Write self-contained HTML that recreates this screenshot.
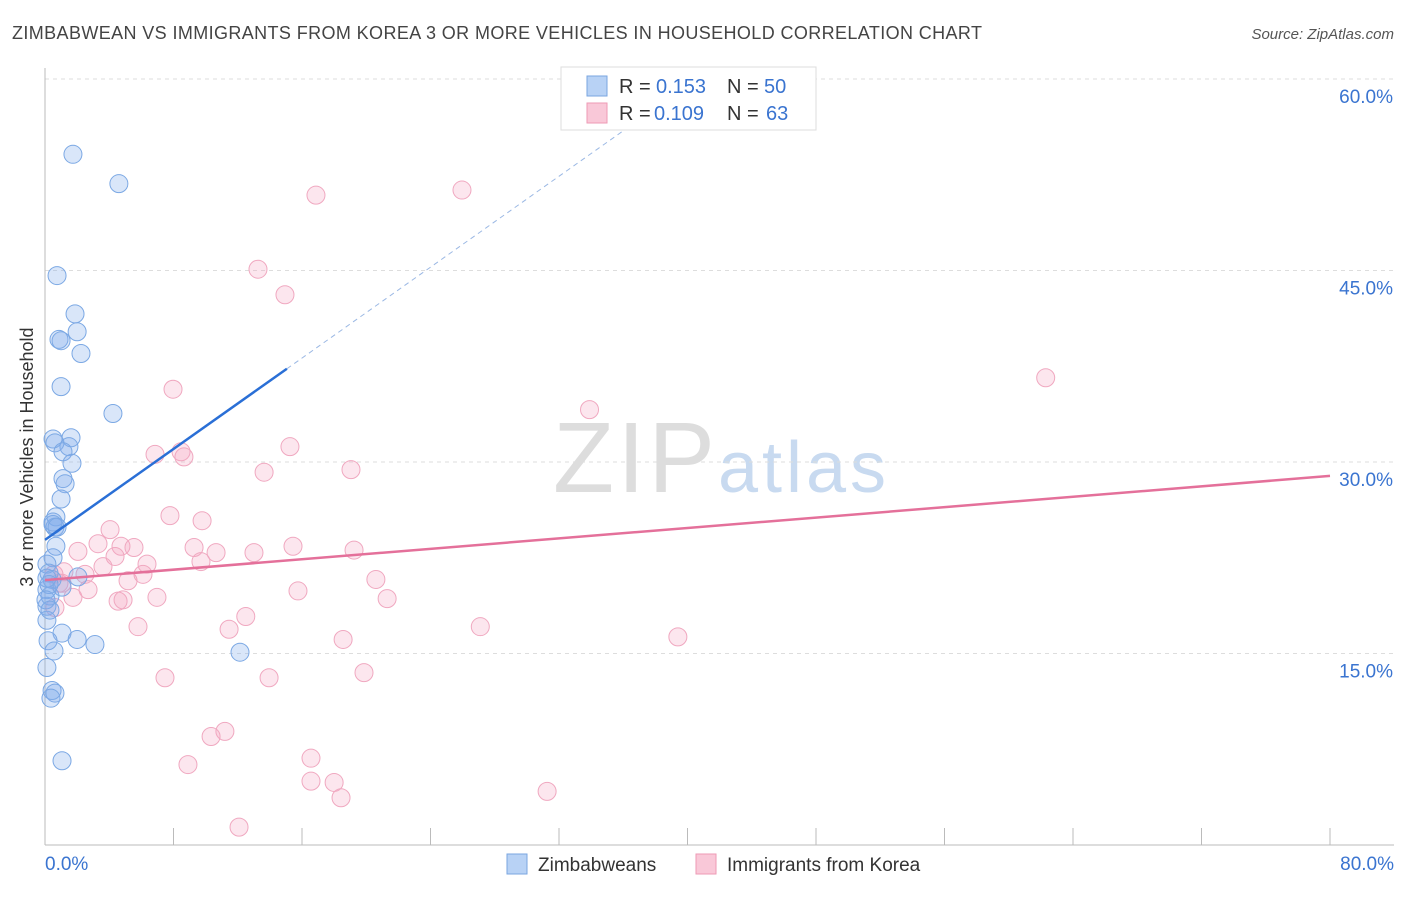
<!DOCTYPE html>
<html><head><meta charset="utf-8"><style>
body{margin:0;background:#fff;font-family:"Liberation Sans",sans-serif}
svg text{font-family:"Liberation Sans",sans-serif}
</style></head><body>
<svg id="chart" width="1406" height="892">
<text x="12" y="39" font-size="18" fill="#444" textLength="970">ZIMBABWEAN VS IMMIGRANTS FROM KOREA 3 OR MORE VEHICLES IN HOUSEHOLD CORRELATION CHART</text>
<text x="1394" y="39" font-size="15" fill="#555" font-style="italic" text-anchor="end">Source: ZipAtlas.com</text>
<text x="0" y="0" transform="translate(33,457) rotate(-90)" font-size="18" fill="#333" text-anchor="middle">3 or more Vehicles in Household</text>
<g><text x="553" y="492" font-size="100" fill="#ddd" font-family="Liberation Serif" textLength="162">ZIP</text><text x="718" y="492" font-size="72" fill="#c8daf0" textLength="168">atlas</text></g>
<g id="grid"></g><g id="axes"></g><g id="marks"></g><g id="trends"></g>
<g>
<rect x="561" y="67" width="255" height="63" fill="#fff" stroke="#ddd"/>
<rect x="587" y="76" width="20" height="20" fill="#b8d2f5" stroke="#7aa6e0"/>
<rect x="587" y="103" width="20" height="20" fill="#f9c8d8" stroke="#ee9ab5"/>
<text x="619" y="93" font-size="20" fill="#333">R = </text><text x="656" y="93" font-size="20" fill="#3a74d0">0.153</text>
<text x="727" y="93" font-size="20" fill="#333">N = </text><text x="764" y="93" font-size="20" fill="#3a74d0">50</text>
<text x="619" y="120" font-size="20" fill="#333">R = </text><text x="654" y="120" font-size="20" fill="#3a74d0">0.109</text>
<text x="727" y="120" font-size="20" fill="#333">N = </text><text x="766" y="120" font-size="20" fill="#3a74d0">63</text>
</g>
<g>
<rect x="507" y="854" width="20" height="20" fill="#b8d2f5" stroke="#7aa6e0"/>
<text x="538" y="871" font-size="19" fill="#333">Zimbabweans</text>
<rect x="696" y="854" width="20" height="20" fill="#f9c8d8" stroke="#ee9ab5"/>
<text x="727" y="871" font-size="19" fill="#333">Immigrants from Korea</text>
</g>
</svg>
<script>
const yTicks=[15,30,45,60];
const xLabels=["0.0%","80.0%"];
const blueX=[1.74,4.6,0.75,1.87,2.0,0.87,1.0,2.24,1.0,4.23,0.5,1.62,0.62,1.49,1.12,1.68,1.12,1.25,1.0,0.68,0.5,0.62,0.68,0.5,0.12,0.25,0.44,0.12,0.31,0.12,2.05,1.06,0.12,1.06,2.0,3.11,0.19,0.56,0.12,0.44,0.62,0.37,1.06,12.14,0.12,0.25,0.06,0.31,0.5,0.75];
const blueY=[54.1,51.8,44.6,41.6,40.2,39.6,39.5,38.5,35.9,33.8,31.8,31.9,31.5,31.2,30.8,29.9,28.7,28.3,27.1,25.7,25.3,24.9,23.4,22.5,22.0,21.3,20.8,20.0,19.5,18.7,21.0,20.2,17.6,16.6,16.1,15.7,16.0,15.2,13.9,12.1,11.9,11.5,6.6,15.1,20.9,20.4,19.2,18.4,25.1,24.9];
const pinkX=[25.96,16.87,13.26,14.94,62.3,7.97,33.9,6.85,8.47,8.65,15.25,13.64,19.05,7.78,9.78,4.05,3.3,4.73,9.28,5.54,10.65,13.01,15.44,19.24,2.05,4.36,9.71,3.61,6.35,6.1,1.18,0.56,2.49,20.6,5.17,0.87,1.06,2.68,15.75,6.97,1.74,4.55,4.86,21.3,12.5,0.62,5.79,27.1,11.46,18.56,39.4,19.86,7.47,13.95,11.2,10.34,8.9,16.56,16.56,18.0,18.43,31.26,12.08];
const pinkY=[51.3,50.9,45.1,43.1,36.6,35.7,34.1,30.6,30.8,30.4,31.2,29.2,29.4,25.8,25.4,24.7,23.6,23.4,23.3,23.3,22.9,22.9,23.4,23.1,23.0,22.6,22.2,21.8,22.0,21.2,21.4,21.2,21.2,20.8,20.7,20.5,20.5,20.0,19.9,19.4,19.4,19.1,19.2,19.3,17.9,18.6,17.1,17.1,16.9,16.1,16.3,13.5,13.1,13.1,8.9,8.5,6.3,6.8,5.0,4.9,3.7,4.2,1.4];
const blueTrend=[23.9,0.89];
const pinkTrend=[20.75,0.102];
const NS="http://www.w3.org/2000/svg";
const sx=v=>45+v*16.0625, sy=v=>845-v*12.767;
function mk(t,a,p){const e=document.createElementNS(NS,t);for(const k in a)e.setAttribute(k,a[k]);p.appendChild(e);return e;}
const grid=document.getElementById('grid'),axes=document.getElementById('axes'),marks=document.getElementById('marks'),trends=document.getElementById('trends');
yTicks.forEach(t=>{
 const l=mk('line',{x1:45,x2:1394,y1:sy(t),y2:sy(t),stroke:'#ddd','stroke-dasharray':'4,4'},grid);
 
 
 const tx=mk('text',{x:1393,y:sy(t)+24,'font-size':19,fill:'#3a74d0','text-anchor':'end'},axes);
 tx.textContent=t.toFixed(1)+'%';
 
 
});
const ax=mk('line',{x1:45,x2:45,y1:68,y2:845,stroke:'#bbb'},axes);


const bx=mk('line',{x1:45,x2:1394,y1:845,y2:845,stroke:'#bbb'},axes);


for(let i=1;i<=10;i++){const t=mk('line',{x1:sx(i*8),x2:sx(i*8),y1:828,y2:845,stroke:'#bbb'},axes);
 
 }
[[0,'start',45],[80,'end',1394]].forEach((d,i)=>{const t=mk('text',{x:d[2],y:870,'font-size':19,fill:'#3a74d0','text-anchor':d[1]},axes);t.textContent=xLabels[i];
 
 });
function pts(X,Y,fill,stroke,name){X.forEach((x,i)=>{const c=mk('circle',{cx:sx(x),cy:sy(Y[i]),r:9,fill:fill,stroke:stroke,'stroke-width':1},marks);
 
 });}
pts(pinkX,pinkY,'rgba(244,165,195,0.28)','#f0a8c0','korea-point');
pts(blueX,blueY,'rgba(130,172,235,0.3)','#7ba8e4','zimbabwean-point');
const bt=mk('line',{x1:sx(0),y1:sy(blueTrend[0]),x2:sx(15.06),y2:sy(blueTrend[0]+blueTrend[1]*15.06),stroke:'#2a6fd6','stroke-width':2.5},trends);


const bd=mk('line',{x1:sx(15.06),y1:sy(blueTrend[0]+blueTrend[1]*15.06),x2:sx(37),y2:sy(blueTrend[0]+blueTrend[1]*37),stroke:'#9bb8e4','stroke-width':1,'stroke-dasharray':'5,4'},trends);


const pt=mk('line',{x1:sx(0),y1:sy(pinkTrend[0]),x2:sx(80),y2:sy(pinkTrend[0]+pinkTrend[1]*80),stroke:'#e4709a','stroke-width':2.5},trends);


</script>
</body></html>
